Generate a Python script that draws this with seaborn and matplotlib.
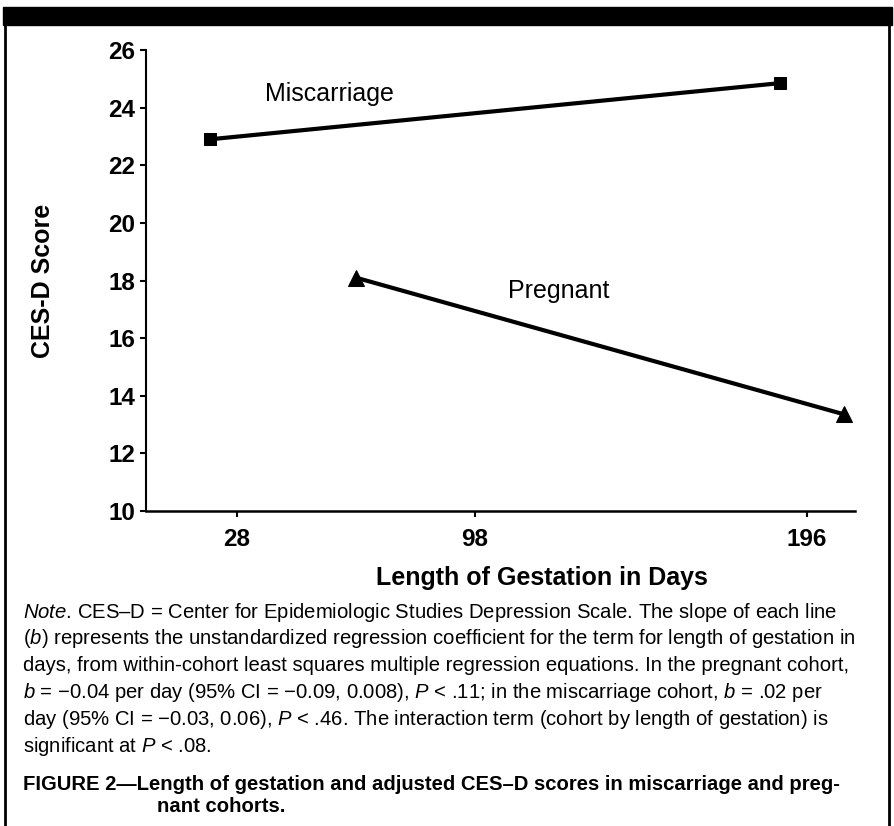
import pandas as pd
import seaborn as sns
import matplotlib.pyplot as plt
from matplotlib.patches import Rectangle
from matplotlib.lines import Line2D

# values
cohorts = ["Miscarriage", "Miscarriage", "Pregnant", "Pregnant"]
days = [20, 188, 63, 207]
scores = [22.9, 24.85, 18.1, 13.35]
x_ticks = [28, 98, 196]
y_ticks = [10, 12, 14, 16, 18, 20, 22, 24, 26]

note_lines = [
    r"$Note$. CES–D = Center for Epidemiologic Studies Depression Scale. The slope of each line",
    r"($b$) represents the unstandardized regression coefficient for the term for length of gestation in",
    "days, from within-cohort least squares multiple regression equations. In the pregnant cohort,",
    r"$b$ = −0.04 per day (95% CI = −0.09, 0.008), $P$ < .11; in the miscarriage cohort, $b$ = .02 per",
    r"day (95% CI = −0.03, 0.06), $P$ < .46. The interaction term (cohort by length of gestation) is",
    r"significant at $P$ < .08.",
]
fig_title = ["FIGURE 2—Length of gestation and adjusted CES–D scores in miscarriage and preg-",
             "nant cohorts."]

df = pd.DataFrame({"cohort": cohorts, "days": days, "score": scores})

sns.set_style("ticks")
base = "Liberation Sans"
plt.rcParams['font.family'] = [base, 'DejaVu Sans']
plt.rcParams['mathtext.fontset'] = 'custom'
plt.rcParams['mathtext.it'] = base + ':italic'
plt.rcParams['mathtext.rm'] = base
plt.rcParams['mathtext.bf'] = base + ':bold'
for k in ['text.color', 'axes.labelcolor', 'xtick.color', 'ytick.color', 'axes.edgecolor']:
    plt.rcParams[k] = 'black'

W, H = 895, 826
fig = plt.figure(figsize=(W / 100, H / 100), dpi=100)
ax = fig.add_axes([146 / W, 1 - 511 / H, (855 - 146) / W, (511 - 50) / H])

sns.lineplot(data=df, x="days", y="score", hue="cohort", style="cohort",
             markers={"Miscarriage": "s", "Pregnant": "^"}, dashes=False,
             palette={"Miscarriage": "black", "Pregnant": "black"},
             linewidth=3, markersize=9, markeredgecolor="black",
             legend=False, ax=ax)
for ln in ax.lines:
    if ln.get_marker() == '^':
        ln.set_markersize(11)

ax.set_xlim(1.2, 210.1)
ax.set_ylim(10, 26)
ax.set_xticks(x_ticks)
ax.set_yticks(y_ticks)
sns.despine(ax=ax)
ax.spines['left'].set_linewidth(1.5)
ax.spines['bottom'].set_linewidth(1.8)
ax.tick_params(axis='y', length=4, width=1.5, labelsize=17.5, pad=4)
ax.tick_params(axis='x', length=4, width=1.5, labelsize=17.5, pad=8)
for lab in ax.get_xticklabels() + ax.get_yticklabels():
    lab.set_fontweight('bold')

ax.set_xlabel("Length of Gestation in Days", fontsize=18, fontweight='bold')
ax.set_ylabel("CES-D Score", fontsize=18, fontweight='bold')
ax.xaxis.set_label_coords(0.558, -0.12)
ax.yaxis.set_label_coords(-0.128, 0.5)

ax.text(36.4, 24.23, "Miscarriage", fontsize=18, va='baseline')
ax.text(107.9, 17.39, "Pregnant", fontsize=18, va='baseline')

# caption
y0 = 612
for i, line in enumerate(note_lines):
    fig.text(23 / W, 1 - (y0 + i * 26.8) / H, line, fontsize=14.6, va='center')
fig.text(23 / W, 1 - 785 / H, fig_title[0], fontsize=14.6, fontweight='bold', va='center')
fig.text(157 / W, 1 - 807 / H, fig_title[1], fontsize=14.6, fontweight='bold', va='center')

# frame
fig.patches.append(Rectangle((3 / W, 1 - 25 / H), 889 / W, 18 / H,
                             transform=fig.transFigure, color='black'))
fig.add_artist(Line2D([5 / W, 5 / W], [0, 1 - 25 / H], transform=fig.transFigure,
                      color='black', lw=2))
fig.add_artist(Line2D([889 / W, 889 / W], [0, 1 - 25 / H], transform=fig.transFigure,
                      color='black', lw=2))

fig.savefig("out.png", dpi=100)
